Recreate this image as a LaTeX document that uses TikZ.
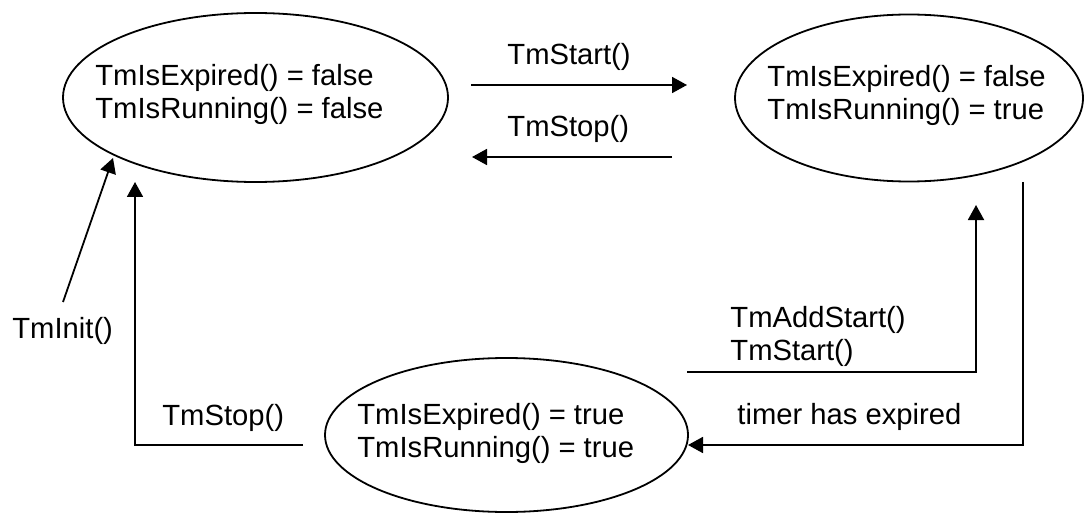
\documentclass[tikz,border=0pt]{standalone}
\usepackage{fontspec}
\setmainfont{Liberation Sans}
\usetikzlibrary{arrows.meta,shapes.geometric}
\begin{document}
\begin{tikzpicture}[x=0.5pt,y=-0.5pt,
  state/.style={draw,ellipse,line width=0.9pt,inner sep=0pt},
  txt/.style={anchor=base west,inner sep=0pt,align=left,font=\fontsize{14.6}{16.5}\selectfont},
  arr/.style={line width=0.9pt,-{Triangle[length=7.5pt,width=8pt]}},
  ln/.style={line width=0.9pt}]
\useasboundingbox (0,0) rectangle (1085,513);
% states
\node[state,minimum width=192.5pt,minimum height=84.5pt] (s1) at (255.5,97.5) {};
\node[state,minimum width=174pt,minimum height=83.5pt] (s2) at (909,98) {};
\node[state,minimum width=181.5pt,minimum height=77pt] (s3) at (506.5,435) {};
% multi-line nodes: base anchor is the baseline of the last line
\node[txt] (t1) at (95,119) {TmIsExpired() = false\\TmIsRunning() = false};
\node[txt] (t2) at (767,120) {TmIsExpired() = false\\TmIsRunning() = true};
\node[txt] (t3) at (357,457) {TmIsExpired() = true\\TmIsRunning() = true};
% labels
\node[txt] (lstart) at (507,65) {TmStart()};
\node[txt] (lstop) at (507,137) {TmStop()};
\node[txt] (linit) at (12,338) {TmInit()};
\node[txt] (lstop2) at (162,425) {TmStop()};
\node[txt] (ladd) at (730,360) {TmAddStart()\\TmStart()};
\node[txt] (lexp) at (737,424) {timer has expired};
% connector end points
\coordinate (a1s) at (471,85);  \coordinate (a1e) at (687,85);
\coordinate (a2s) at (672,157); \coordinate (a2e) at (472,157);
\coordinate (is) at (63,302);   \coordinate (ie) at (113,158);
\coordinate (bs) at (303,445);  \coordinate (bc) at (135,445); \coordinate (be) at (135,182);
\coordinate (cs) at (687,372);  \coordinate (cc) at (976,372); \coordinate (ce) at (976,205);
\coordinate (ds) at (1023,182); \coordinate (dc) at (1023,445); \coordinate (de) at (688,445);
% connectors
\draw[arr] (a1s) -- (a1e);
\draw[arr] (a2s) -- (a2e);
\draw[arr] (is) -- (ie);
\draw[arr] (bs) -- (bc) -- (be);
\draw[arr] (cs) -- (cc) -- (ce);
\draw[arr] (ds) -- (dc) -- (de);
\end{tikzpicture}
\end{document}
